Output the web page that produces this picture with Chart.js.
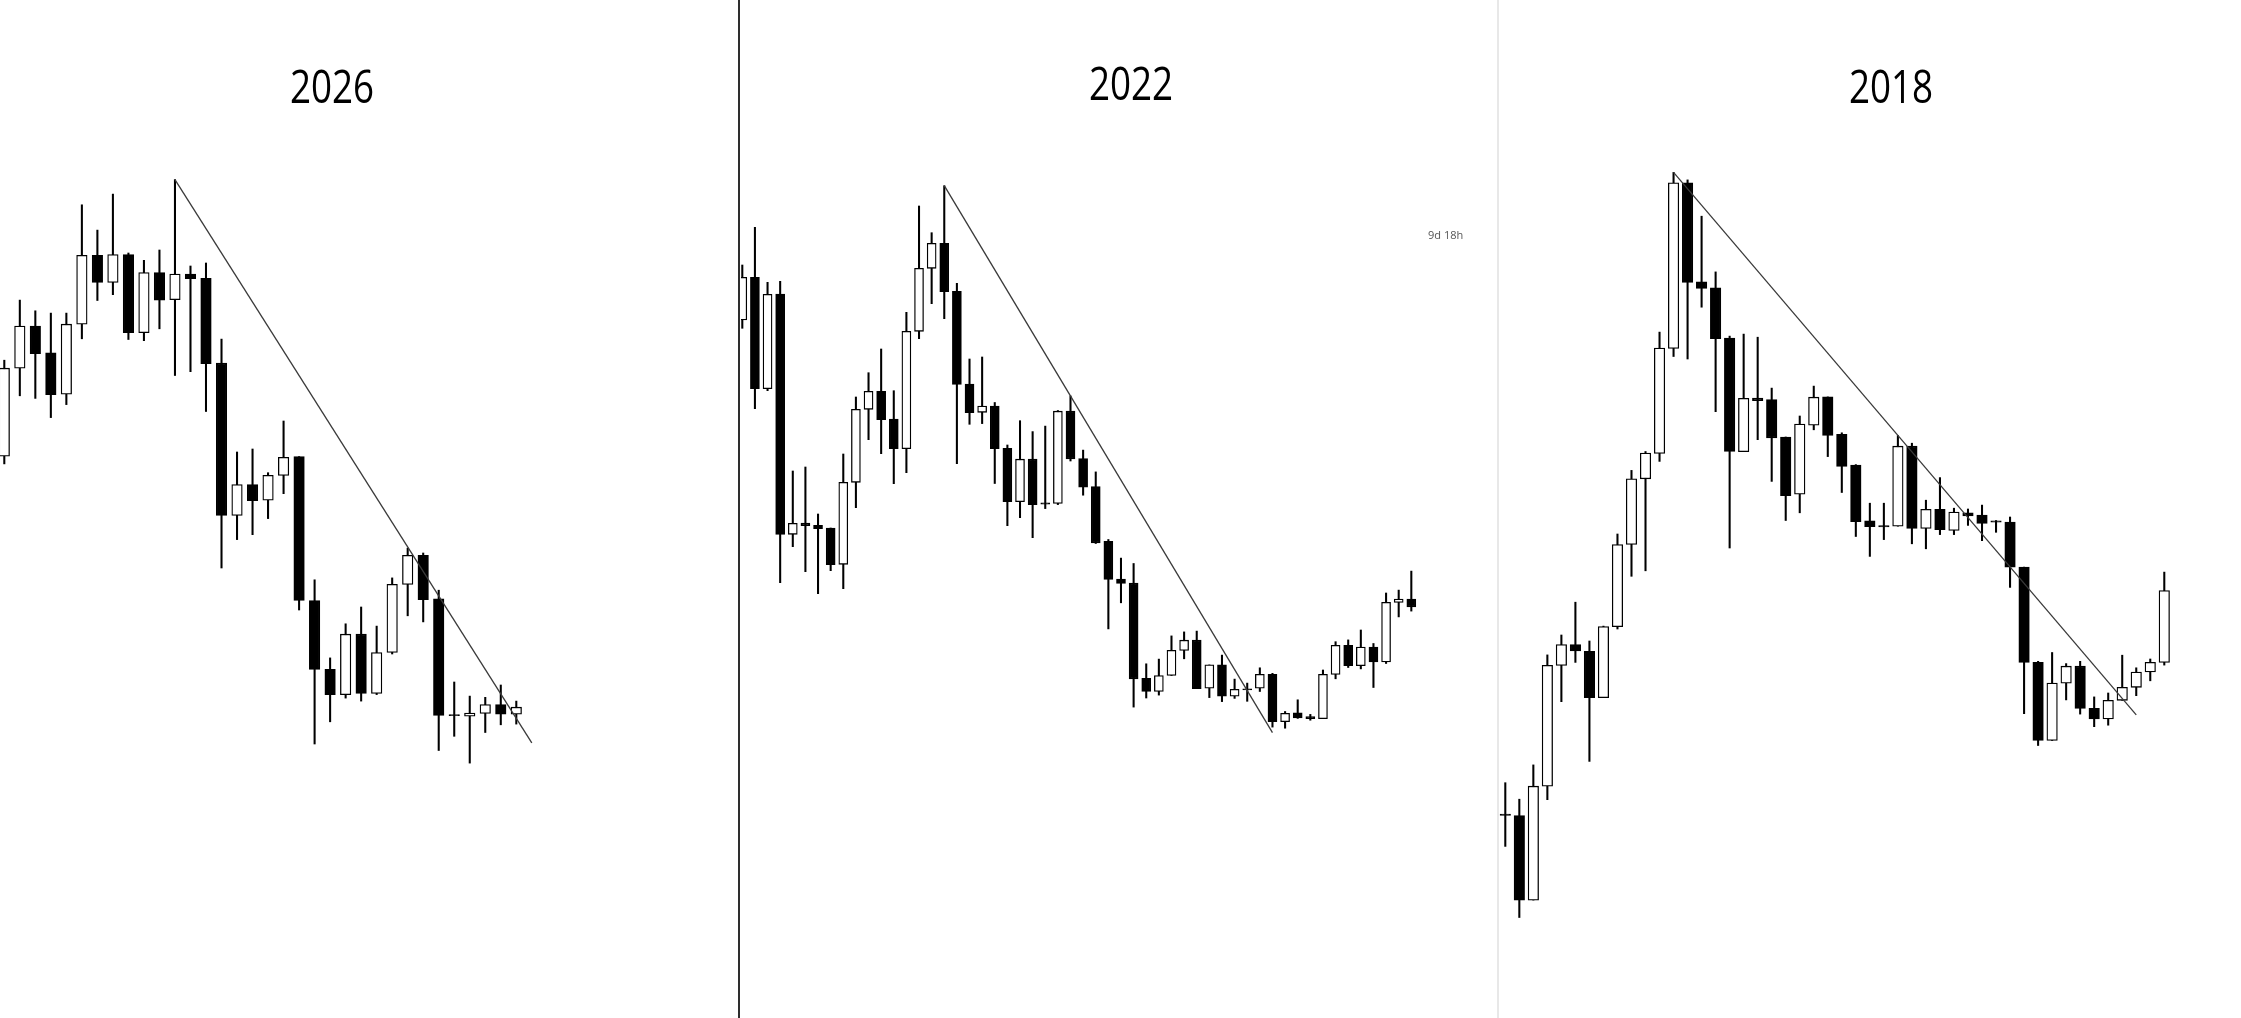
<!DOCTYPE html>
<html><head><meta charset="utf-8">
<script src="https://cdn.jsdelivr.net/npm/chart.js@4.4.1/dist/chart.umd.min.js"></script>
<style>
html,body{margin:0;padding:0;background:#fff;width:2241px;height:1018px;overflow:hidden;}
body{position:relative;}
canvas{position:absolute;top:0;}
.title{position:absolute;font-family:"Open Sans","Liberation Sans",sans-serif;font-size:46px;line-height:46px;color:#000;transform:translateX(-50%) scaleX(0.8);transform-origin:50% 50%;white-space:nowrap;}
.divider{position:absolute;top:0;height:1018px;}
.note{position:absolute;font-family:"Open Sans","Liberation Sans",sans-serif;font-size:11px;line-height:14px;color:#555;white-space:nowrap;}
</style></head><body>
<script>
// ---- data (arbitrary price units) ----
const TITLES = ['2026', '2022', '2018'];
const NOTE_TEXT = '9d 18h';

const P2026_OPEN  = [561.8,649.8,691.9,665.1,623.8,693.8,762.7,735.5,763.4,685.4,745.4,718.3,743.9,739.7,654.8,502.5,533.5,517.8,542.6,561.4,417.5,348.6,323.4,383.8,324.5,365.5,433.6,462.7,419.1,303.5,301.9,304.6,313.4,303.9];
const P2026_HIGH  = [657.8,717.9,707.2,704.9,704.9,813.2,787.9,823.9,765.0,757.7,768.0,838.4,752.0,755.0,678.9,566.0,569.0,545.3,597.0,561.4,438.2,360.1,394.2,411.0,391.9,440.1,469.9,465.0,427.8,336.0,321.9,320.7,333.0,316.9];
const P2026_LOW   = [554.1,622.2,619.6,600.4,613.4,679.2,717.5,723.3,678.5,677.3,689.2,642.5,646.3,606.5,450.0,478.4,483.3,499.4,524.3,408.0,274.0,296.2,319.9,316.9,323.4,364.0,402.2,396.1,267.5,281.7,254.9,285.5,293.2,293.9];
const P2026_CLOSE = [649.8,691.9,664.3,623.4,693.8,762.7,735.5,763.4,685.4,745.4,717.9,743.9,739.3,654.4,502.5,533.5,517.4,542.6,560.6,417.5,348.6,323.4,383.8,324.5,365.5,433.6,462.7,418.3,302.7,302.3,305.0,313.4,303.9,310.8];
const P2026_TREND_IDX = [11, 34];
const P2026_TREND_VAL = [838.4, 275.2];

const P2022_OPEN  = [698.0,740.7,629.3,724.0,483.7,495.0,492.7,490.0,453.7,535.7,608.7,626.7,599.0,569.3,686.7,749.7,774.7,726.7,634.0,605.7,611.9,569.7,516.3,558.8,515.2,514.5,606.8,559.5,531.5,476.7,438.9,434.8,339.6,326.5,342.5,367.6,377.8,329.8,353.1,321.8,329.1,329.8,343.6,296.4,305.1,301.5,299.3,343.6,372.7,352.4,370.9,356.0,415.6,418.9];
const P2022_HIGH  = [753.0,790.7,735.7,736.7,547.0,551.0,504.0,490.0,564.0,621.0,645.3,669.0,627.3,705.7,812.0,785.3,832.3,734.7,659.0,661.0,615.5,573.0,597.3,586.4,591.9,607.5,622.1,567.9,546.1,478.5,459.9,454.5,354.2,358.9,382.1,386.1,386.9,353.1,362.9,338.9,334.9,350.2,344.7,306.5,318.2,303.6,348.0,376.3,378.1,388.0,374.5,425.0,427.9,446.9];
const P2022_LOW   = [689.7,609.3,627.3,435.3,471.3,446.3,424.3,447.3,429.3,510.3,578.3,564.3,534.3,545.3,679.3,714.3,699.3,554.3,593.7,594.4,534.5,492.3,500.3,480.3,509.4,513.4,557.0,522.8,474.5,389.1,415.2,310.9,320.0,322.9,342.5,359.2,329.4,320.4,316.4,319.6,316.7,326.5,290.9,289.8,299.6,297.8,299.3,339.2,350.5,349.1,330.5,354.5,401.1,406.9];
const P2022_CLOSE = [740.7,629.3,723.7,483.7,494.7,492.3,489.3,453.3,535.7,608.7,626.7,598.3,569.3,686.7,749.7,774.7,726.3,633.7,605.3,611.9,569.4,516.3,558.8,513.4,513.8,606.8,559.2,530.8,475.2,438.5,434.5,339.2,326.5,342.5,367.6,377.8,329.4,353.1,321.8,328.7,328.0,343.6,296.4,304.7,300.0,299.3,343.6,372.7,352.4,370.9,356.0,415.6,418.9,411.2];
const P2022_TREND_IDX = [16, 42];
const P2022_TREND_VAL = [832.3, 285.4];

const P2018_OPEN  = [203.9,202.4,117.9,231.8,352.6,373.5,366.6,320.3,391.4,473.5,539.2,564.5,669.5,835.1,736.1,730.2,679.9,566.4,620.0,618.5,581.0,523.9,592.8,621.1,583.6,553.0,497.2,492.3,491.8,571.8,489.5,508.6,487.6,505.2,502.9,497.2,496.0,450.9,355.6,277.5,334.9,351.8,309.7,299.0,317.7,330.7,346.0,355.6];
const P2018_HIGH  = [235.3,218.8,253.1,363.1,383.0,415.8,377.0,391.9,484.0,547.6,566.5,685.9,845.6,838.1,801.8,746.1,681.9,683.9,680.8,629.9,581.0,602.0,631.9,621.1,585.2,553.4,514.8,514.8,582.5,574.8,517.8,540.4,509.8,509.0,512.9,497.5,501.0,450.9,356.7,365.5,354.4,356.7,321.1,325.0,362.8,350.2,359.0,445.9];
const P2018_LOW   = [171.6,100.5,117.9,218.3,316.3,355.6,256.6,320.3,389.0,441.7,447.2,556.6,661.5,659.0,710.8,606.3,470.0,566.4,578.3,536.6,497.5,505.2,588.2,561.4,525.5,481.5,461.6,478.4,491.8,474.2,469.2,483.4,483.4,492.6,477.3,485.7,430.6,304.3,272.5,277.5,318.1,303.9,291.3,292.8,317.7,322.3,337.2,352.9];
const P2018_CLOSE = [202.7,117.9,231.8,352.6,373.5,367.1,320.3,391.4,473.5,539.2,565.0,670.0,835.1,735.6,729.7,679.4,566.5,619.6,617.3,580.2,522.4,594.0,620.8,582.5,551.5,496.4,491.4,491.1,571.8,489.5,508.6,488.4,506.0,502.1,494.5,495.8,450.9,355.6,277.5,334.9,351.8,309.7,299.0,317.7,330.7,346.0,355.6,427.5];
const P2018_TREND_IDX = [12, 45];
const P2018_TREND_VAL = [845.6, 303.2];

// ---- layout ----
const PAGE_H = 1018;
const PANELS = [
  {title: TITLES[0], open: P2026_OPEN, high: P2026_HIGH, low: P2026_LOW, close: P2026_CLOSE, tIdx: P2026_TREND_IDX, tVal: P2026_TREND_VAL,
   left: 0, width: 738, firstX: 4.3, step: 15.515, body: 10.5, titleX: 332, titleTop: 62},
  {title: TITLES[1], open: P2022_OPEN, high: P2022_HIGH, low: P2022_LOW, close: P2022_CLOSE, tIdx: P2022_TREND_IDX, tVal: P2022_TREND_VAL,
   left: 741, width: 756, firstX: 742.3, step: 12.623, body: 9, titleX: 1131, titleTop: 59},
  {title: TITLES[2], open: P2018_OPEN, high: P2018_HIGH, low: P2018_LOW, close: P2018_CLOSE, tIdx: P2018_TREND_IDX, tVal: P2018_TREND_VAL,
   left: 1499, width: 742, firstX: 1505.3, step: 14.021, body: 10.5, titleX: 1891, titleTop: 62}
];

PANELS.forEach(p => {
  const c = document.createElement('canvas');
  c.width = p.width; c.height = PAGE_H;
  c.style.left = p.left + 'px';
  c.style.width = p.width + 'px'; c.style.height = PAGE_H + 'px';
  document.body.appendChild(c);

  const t = document.createElement('div');
  t.className = 'title';
  t.textContent = p.title;
  t.style.left = p.titleX + 'px';
  t.style.top = p.titleTop + 'px';
  document.body.appendChild(t);

  const idx = p.open.map((_, i) => i);
  const minX = -(p.firstX - p.left) / p.step;
  const maxX = minX + p.width / p.step;

  new Chart(c.getContext('2d'), {
    type: 'bar',
    data: {
      datasets: [
        {type: 'line', data: p.tIdx.map((x, i) => ({x: x, y: p.tVal[i]})),
         borderColor: '#3a3a3a', borderWidth: 1.3, pointRadius: 0, fill: false, order: 0},
        {data: idx.map(i => ({x: i, y: [p.open[i], p.close[i]]})),
         backgroundColor: idx.map(i => p.close[i] >= p.open[i] ? '#ffffff' : '#000000'),
         borderColor: '#000000', borderWidth: 1.3, borderSkipped: false,
         barThickness: p.body, grouped: false, order: 1},
        {data: idx.map(i => ({x: i, y: [p.low[i], p.high[i]]})),
         backgroundColor: '#000000', borderWidth: 0,
         barThickness: 1.4, grouped: false, order: 2}
      ]
    },
    options: {
      responsive: false, animation: false, devicePixelRatio: 1, events: [],
      layout: {padding: 0},
      plugins: {legend: {display: false}, tooltip: {enabled: false}, title: {display: false}},
      scales: {
        x: {type: 'linear', display: false, min: minX, max: maxX, offset: false, grid: {offset: false}},
        y: {type: 'linear', display: false, min: 0, max: PAGE_H, beginAtZero: false}
      }
    }
  });
});

const d1 = document.createElement('div');
d1.className = 'divider';
d1.style.left = '738px'; d1.style.width = '2px'; d1.style.background = '#2e2e2e';
document.body.appendChild(d1);
const d2 = document.createElement('div');
d2.className = 'divider';
d2.style.left = '1497px'; d2.style.width = '2px'; d2.style.background = '#e8e8e8';
document.body.appendChild(d2);

const n = document.createElement('div');
n.className = 'note';
n.textContent = NOTE_TEXT;
n.style.left = '1428px'; n.style.top = '228px';
document.body.appendChild(n);
</script>
</body></html>
